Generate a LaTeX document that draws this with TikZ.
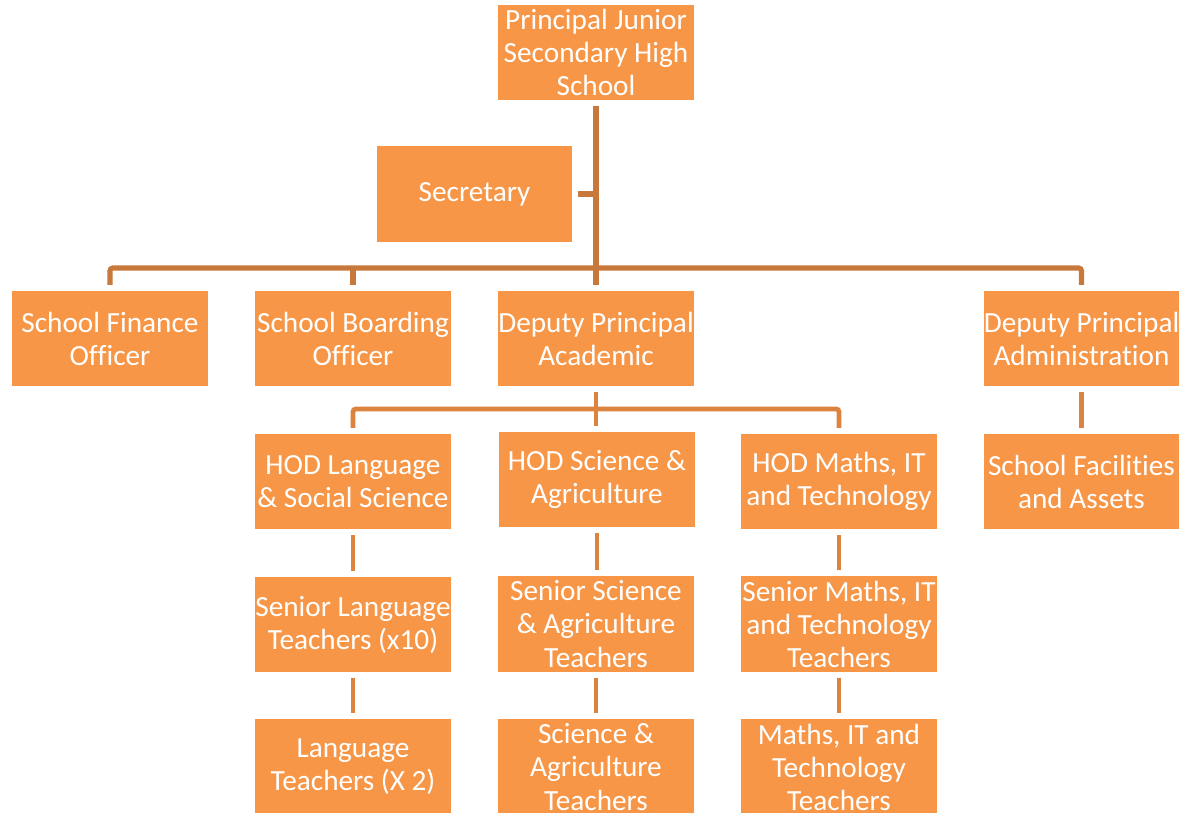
\documentclass[tikz,border=0pt]{standalone}
\usepackage{fontspec}
\setmainfont[Ligatures=NoCommon]{Carlito}

\definecolor{boxorange}{HTML}{F79646}
\definecolor{linkbrown}{HTML}{C8783A}
\definecolor{linkorange}{HTML}{DC843F}

\begin{document}
\begin{tikzpicture}[x=0.025cm,y=-0.025cm,
    post/.style={fill=boxorange,text=white,align=center,inner sep=0pt,
        minimum width=4.875cm,minimum height=2.375cm,outer sep=0.15cm,
        font=\fontsize{20.8}{23.5}\selectfont},
    link/.style={draw=linkbrown,line width=3.6pt,rounded corners=2pt},
    sublink/.style={link,draw=linkorange,line width=3.4pt}]

% Page frame
\useasboundingbox (0,0) rectangle (1183,813);

% Head and office
\node[post] (principal) at (596,52.5) {Principal Junior\\Secondary High\\School};
\node[post] (secretary) at (474.5,194) {Secretary};

% Second level
\node[post] (finance) at (110,338.5) {School Finance\\Officer};
\node[post] (boarding) at (353,338.5) {School Boarding\\Officer};
\node[post] (academic) at (596,338.5) {Deputy Principal\\Academic};
\node[post] (admin) at (1081.5,338.5) {Deputy Principal\\Administration};

% Heads of department
\node[post] (hodlang) at (353,481.5) {HOD Language\\\& Social Science};
\node[post] (hodsci) at (597,479.5) {HOD Science \&\\Agriculture};
\node[post] (hodmath) at (839,481.5) {HOD Maths, IT\\and Technology};
\node[post] (assets) at (1081.5,481.5) {School Facilities\\and Assets};

% Senior teachers
\node[post] (senlang) at (353,624.5) {Senior Language\\Teachers (x10)};
\node[post] (sensci) at (596,624) {Senior Science\\\& Agriculture\\Teachers};
\node[post] (senmath) at (839,624) {Senior Maths, IT\\and Technology\\Teachers};

% Teachers
\node[post] (lang) at (353,767) {Language\\Teachers (X 2)};
\node[post] (sci) at (596,767) {Science \&\\Agriculture\\Teachers};
\node[post] (math) at (839,767) {Maths, IT and\\Technology\\Teachers};

% Bus lines
\coordinate (bus) at (0,268);
\coordinate (subbus) at (0,409);

% Top links
\draw[link] (principal.south) -- (academic.north);
\draw[link] (secretary.east) -- (secretary.east -| principal.south);
\draw[link] (finance.north) |- (admin.north |- bus) -- (admin.north);
\draw[link] (boarding.north) -- (boarding.north |- bus);

% Academic links
\draw[sublink] (academic.south) -- (academic.south |- hodsci.north);
\draw[sublink] (hodlang.north) |- (hodmath.north |- subbus) -- (hodmath.north);
\foreach \a/\b in {hodlang/senlang,hodsci/sensci,hodmath/senmath,
    senlang/lang,sensci/sci,senmath/math,admin/assets}
  \draw[sublink] (\a.south) -- (\a.south |- \b.north);

\end{tikzpicture}
\end{document}
